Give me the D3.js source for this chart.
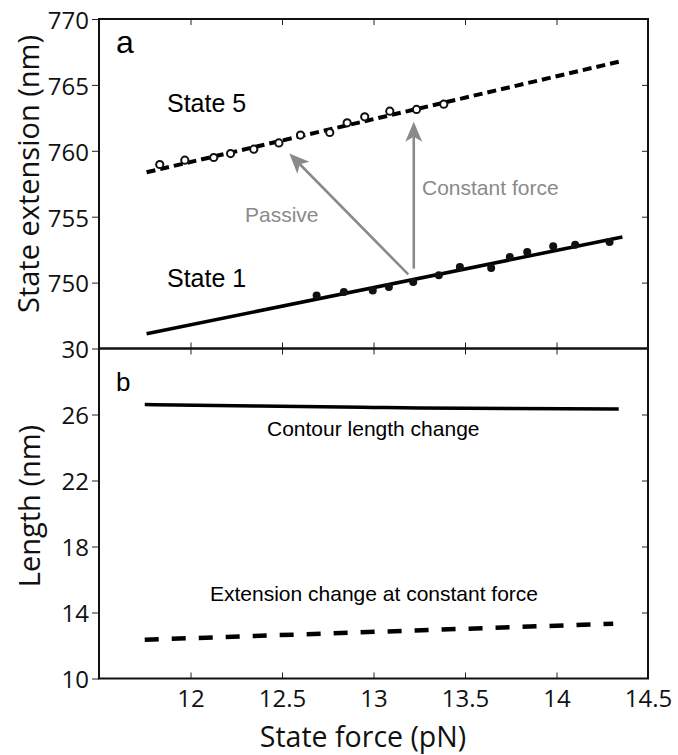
<!DOCTYPE html>
<meta charset="utf-8">
<style>
body { margin: 0; background: #fff; }
svg { display: block; }
.lbl { font-family: "Liberation Sans", Arial, sans-serif; }
.axis text { font-family: "Open Sans", sans-serif; font-size: 24px; fill: #111; }
.axis path { display: none; }
.axis line { stroke: #222; stroke-width: 1; }
.title { font-family: "Open Sans", sans-serif; fill: #111; }
</style>
<svg width="678" height="755"></svg>
<script src="https://d3js.org/d3.v7.min.js"></script>
<script>

// tick labels
var xTicks = [12, 12.5, 13, 13.5, 14, 14.5];
var yTicksA = [750, 755, 760, 765, 770];
var yTicksB = [10, 14, 18, 22, 26, 30];

// panel a: state 5 (open circles) and state 1 (filled dots)
var state5Force = [11.832, 11.969, 12.127, 12.219, 12.346, 12.483, 12.601, 12.761, 12.856, 12.952, 13.089, 13.235, 13.384];
var state5Ext   = [758.96, 759.29, 759.49, 759.79, 760.12, 760.60, 761.19, 761.39, 762.12, 762.58, 763.01, 763.14, 763.54];
var state1Force = [12.689, 12.838, 12.996, 13.084, 13.217, 13.357, 13.472, 13.643, 13.745, 13.840, 13.982, 14.102, 14.290];
var state1Ext   = [749.03, 749.28, 749.41, 749.66, 750.04, 750.55, 751.18, 751.10, 751.94, 752.32, 752.75, 752.88, 753.08];

// fitted lines, panel a
var state5FitForce = [11.76, 14.34];
var state5FitExt   = [758.37, 766.76];
var state1FitForce = [11.76, 14.36];
var state1FitExt   = [746.12, 753.46];

// arrows, panel a [force, extension]
var passiveArrow  = [[13.19, 750.62], [12.54, 759.79]];
var constantArrow = [[13.22, 751.06], [13.22, 762.20]];

// panel b
var contourForce  = [11.75, 12.25, 12.6, 13.0, 13.25, 13.75, 14.34];
var contourLength = [26.60, 26.53, 26.48, 26.43, 26.40, 26.36, 26.34];
var extForce  = [11.75, 14.31];
var extLength = [12.35, 13.32];

var svg = d3.select("svg");
var pLeft = 99, pRight = 648, pTop = 19, pMid = 348.5, pBottom = 678.5;

var x = d3.scaleLinear().domain([11.5, 14.5]).range([pLeft, pRight]);
var yA = d3.scaleLinear().domain([745, 770]).range([pMid, pTop]);
var yB = d3.scaleLinear().domain([10, 30]).range([pBottom, pMid]);

// axes
svg.append("g").attr("class", "axis")
  .attr("transform", "translate(" + pLeft + ",0)")
  .call(d3.axisLeft(yA).tickValues(yTicksA).tickSize(7).tickPadding(3))
  .selectAll("text").attr("dy", "0.39em");
svg.append("g").attr("class", "axis")
  .attr("transform", "translate(" + pLeft + ",0)")
  .call(d3.axisLeft(yB).tickValues(yTicksB).tickSize(7).tickPadding(3))
  .selectAll("text").attr("dy", "0.39em");
svg.append("g").attr("class", "axis")
  .attr("transform", "translate(" + pRight + ",0)")
  .call(d3.axisRight(yA).tickValues(yTicksA.slice(0, 4)).tickSize(-6).tickFormat(""));
svg.append("g").attr("class", "axis")
  .attr("transform", "translate(" + pRight + ",0)")
  .call(d3.axisRight(yB).tickValues(yTicksB.slice(1, 5)).tickSize(-6).tickFormat(""));
svg.append("g").attr("class", "axis")
  .attr("transform", "translate(0," + pTop + ")")
  .call(d3.axisTop(x).tickValues(xTicks.slice(0, 5)).tickSize(-6).tickFormat(""));
svg.append("g").attr("class", "axis")
  .attr("transform", "translate(0," + pMid + ")")
  .call(d3.axisBottom(x).tickValues(xTicks.slice(0, 5)).tickSize(-6).tickFormat(""));
svg.append("g").attr("class", "axis")
  .attr("transform", "translate(0," + pMid + ")")
  .call(d3.axisTop(x).tickValues(xTicks.slice(0, 5)).tickSize(-6).tickFormat(""));
svg.append("g").attr("class", "axis")
  .attr("transform", "translate(0," + pBottom + ")")
  .call(d3.axisBottom(x).tickValues(xTicks).tickSize(-6).tickPadding(11).tickFormat(d3.format("")));

// frame
svg.append("rect").attr("x", pLeft).attr("y", pTop)
  .attr("width", pRight - pLeft).attr("height", pBottom - pTop)
  .attr("fill", "none").attr("stroke", "#111").attr("stroke-width", 2);
svg.append("line").attr("x1", pLeft).attr("x2", pRight).attr("y1", pMid).attr("y2", pMid)
  .attr("stroke", "#111").attr("stroke-width", 2.5);

// axis titles
svg.append("text").attr("class", "title")
  .attr("transform", "translate(39,174) rotate(-90)")
  .attr("text-anchor", "middle").style("font-size", "29px")
  .text("State extension (nm)");
svg.append("text").attr("class", "title")
  .attr("transform", "translate(40,506) rotate(-90)")
  .attr("text-anchor", "middle").style("font-size", "29px")
  .text("Length (nm)");
svg.append("text").attr("class", "title")
  .attr("x", 363).attr("y", 747)
  .attr("text-anchor", "middle").style("font-size", "28.5px")
  .text("State force (pN)");

// arrow marker
svg.append("defs").append("marker")
  .attr("id", "head").attr("markerUnits", "userSpaceOnUse")
  .attr("viewBox", "-21 -9 22 18").attr("refX", 0).attr("refY", 0)
  .attr("markerWidth", 22).attr("markerHeight", 18).attr("orient", "auto")
  .append("path").attr("d", "M0,0 L-20,-8.5 L-15,0 L-20,8.5 Z").attr("fill", "#8a8a8a");

var line = d3.line();

// panel a lines
svg.append("path")
  .attr("d", line(state5FitForce.map(function(f, i) { return [x(f), yA(state5FitExt[i])]; })))
  .attr("fill", "none").attr("stroke", "#000").attr("stroke-width", 4)
  .attr("stroke-dasharray", "9,5");
svg.append("path")
  .attr("d", line(state1FitForce.map(function(f, i) { return [x(f), yA(state1FitExt[i])]; })))
  .attr("fill", "none").attr("stroke", "#000").attr("stroke-width", 3.5);

// points
svg.selectAll(".s1").data(state1Force).enter().append("circle")
  .attr("class", "s1")
  .attr("cx", function(d) { return x(d); })
  .attr("cy", function(d, i) { return yA(state1Ext[i]); })
  .attr("r", 4).attr("fill", "#111");
svg.selectAll(".s5").data(state5Force).enter().append("circle")
  .attr("class", "s5")
  .attr("cx", function(d) { return x(d); })
  .attr("cy", function(d, i) { return yA(state5Ext[i]); })
  .attr("r", 3.6).attr("fill", "#fff").attr("stroke", "#111").attr("stroke-width", 2);

// arrows
[passiveArrow, constantArrow].forEach(function(a) {
  var x1 = x(a[0][0]), y1 = yA(a[0][1]), x2 = x(a[1][0]), y2 = yA(a[1][1]);
  var len = Math.hypot(x2 - x1, y2 - y1), k = (len - 15) / len;
  svg.append("line")
    .attr("x1", x1).attr("y1", y1)
    .attr("x2", x1 + (x2 - x1) * k).attr("y2", y1 + (y2 - y1) * k)
    .attr("stroke", "#8a8a8a").attr("stroke-width", 2.6);
  svg.append("path")
    .attr("d", "M" + x1 + "," + y1 + "L" + x2 + "," + y2)
    .attr("stroke", "none").attr("fill", "none")
    .attr("marker-end", "url(#head)");
});

// panel b lines
svg.append("path")
  .attr("d", d3.line().curve(d3.curveMonotoneX)(contourForce.map(function(f, i) { return [x(f), yB(contourLength[i])]; })))
  .attr("fill", "none").attr("stroke", "#000").attr("stroke-width", 3.5);
svg.append("path")
  .attr("d", line(extForce.map(function(f, i) { return [x(f), yB(extLength[i])]; })))
  .attr("fill", "none").attr("stroke", "#000").attr("stroke-width", 4.5)
  .attr("stroke-dasharray", "14,13");

// labels
function label(t, px, py, size, color) {
  svg.append("text").attr("class", "lbl")
    .attr("x", px).attr("y", py)
    .style("font-size", size + "px").attr("fill", color || "#000")
    .text(t);
}
label("a", 116, 53, 32);
label("b", 116, 391, 26);
label("State 5", 167, 112, 25);
label("State 1", 167, 287, 25);
label("Passive", 245, 222, 21, "#8a8a8a");
label("Constant force", 422, 195, 21, "#8a8a8a");
label("Contour length change", 267, 436, 21);
label("Extension change at constant force", 210, 601, 21);

</script>
